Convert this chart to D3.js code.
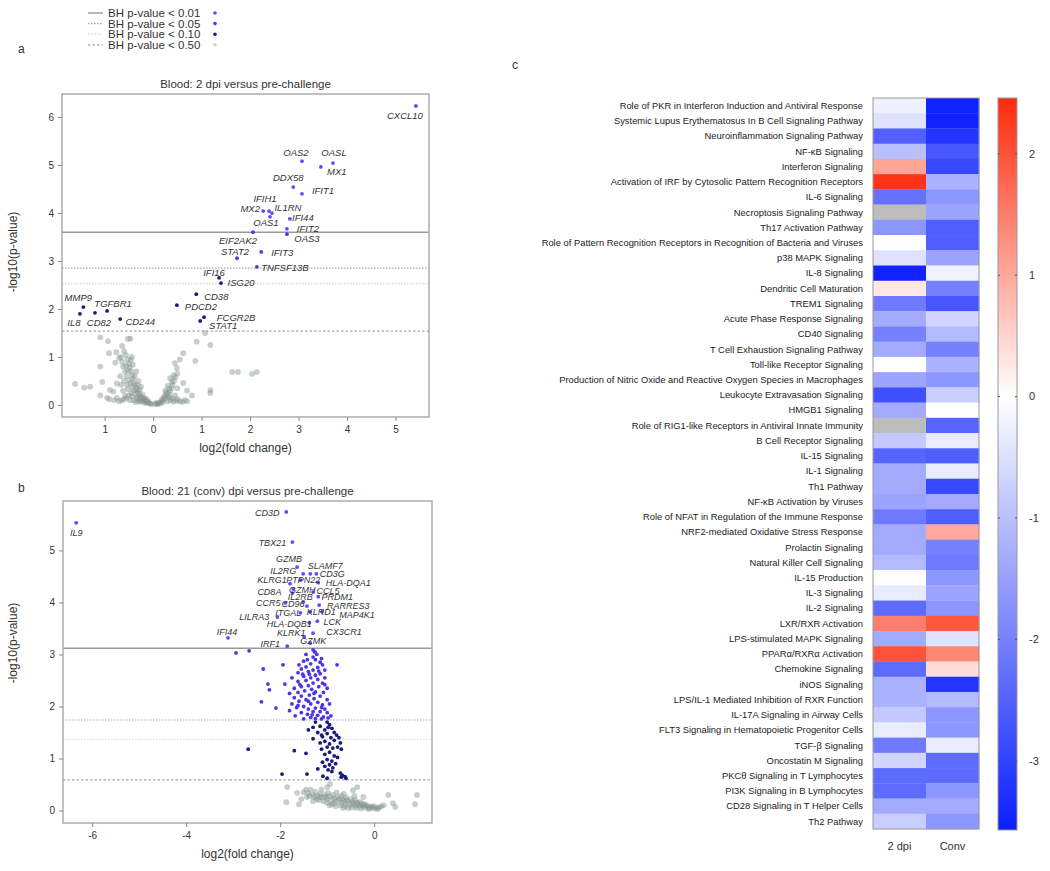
<!DOCTYPE html>
<html><head><meta charset="utf-8">
<script src="https://cdn.jsdelivr.net/npm/d3@7"></script>
<style>body{margin:0;background:#fff} svg text{font-family:"Liberation Sans",Arial,sans-serif}</style>
</head><body><svg id="c" width="1050" height="871"></svg>
<script>
// ---------------- DATA ----------------
const legendLabels = ["BH p-value < 0.01","BH p-value < 0.05","BH p-value < 0.10","BH p-value < 0.50"];

// panel a
const titleA = "Blood: 2 dpi versus pre-challenge";
const thresholdsA = [3.6, 2.85, 2.53, 1.54];
const xTicksA = [-1,0,1,2,3,4,5];
const xTickLabelsA = ["1","0","1","2","3","4","5"];
const yTicksA = [0,1,2,3,4,5,6];
const genesA = [
 ["CXCL10",5.42,6.23],["OAS2",3.07,5.08],["OASL",3.71,5.04],["MX1",3.46,4.96],["DDX58",2.89,4.54],
 ["IFIT1",3.07,4.40],["IFIH1",2.39,4.04],["MX2",2.27,4.04],["IL1RN",2.45,4.00],["OAS1",2.41,3.92],
 ["IFI44",2.82,3.88],["EIF2AK2",2.06,3.60],["IFIT2",2.76,3.67],["OAS3",2.76,3.56],["IFIT3",2.23,3.19],
 ["STAT2",1.73,3.06],["TNFSF13B",2.14,2.88],["IFI16",1.36,2.65],["ISG20",1.40,2.54],["CD38",0.89,2.31],
 ["PDCD2",0.49,2.08],["FCGR2B",1.05,1.83],["STAT1",0.97,1.75],["MMP9",-1.44,2.04],["TGFBR1",-0.95,1.96],
 ["IL8",-1.51,1.90],["CD82",-1.20,1.92],["CD244",-0.68,1.79]
];
const grayA = [
 [-0.04,0.02],[-0.08,0.04],[-0.12,0.06],[-0.16,0.09],[-0.2,0.12],[-0.24,0.16],[-0.27,0.2],[-0.3,0.25],[-0.33,0.3],[-0.35,0.36],
 [-0.38,0.42],[-0.4,0.48],[-0.42,0.55],[-0.44,0.62],[-0.46,0.7],[-0.48,0.78],[-0.5,0.86],[-0.53,0.95],[-0.56,1.04],[-0.6,1.12],
 [-0.1,0.08],[-0.18,0.05],[-0.22,0.09],[-0.28,0.13],[-0.32,0.18],[-0.36,0.24],[-0.4,0.3],[-0.43,0.38],[-0.47,0.45],[-0.5,0.52],
 [-0.55,0.6],[-0.58,0.7],[-0.62,0.8],[-0.38,0.6],[-0.35,0.7],[-0.3,0.5],[-0.25,0.38],[-0.45,0.25],[-0.5,0.2],[-0.55,0.15],
 [-0.6,0.12],[-0.65,0.1],[-0.7,0.08],[-0.4,0.1],[-0.3,0.08],[-0.52,0.33],[-0.34,0.14],[-0.44,0.18],
 [-0.06,0.03],[-0.14,0.04],[-0.26,0.07],[-0.36,0.06],[-0.48,0.1],[-0.58,0.2],[-0.62,0.3],[-0.66,0.42],[-0.6,0.5],[-0.54,0.42],
 [-0.42,0.84],[-0.46,0.94],[-0.52,0.72],[-0.56,0.82],[-0.64,0.9],[-0.66,1.0],[-0.44,1.0],[-0.32,0.42],[-0.28,0.32],[-0.22,0.22],
 [-0.18,0.15],[-0.14,0.12],[-0.8,0.1],[-0.9,0.12],[-0.75,0.15],
 [0.04,0.02],[0.08,0.03],[0.12,0.05],[0.16,0.07],[0.2,0.1],[0.24,0.13],[0.28,0.17],[0.32,0.22],[0.35,0.28],[0.38,0.35],
 [0.4,0.42],[0.43,0.5],[0.46,0.58],[0.5,0.66],[0.3,0.08],[0.36,0.1],[0.42,0.07],[0.48,0.09],[0.55,0.08],[0.6,0.06],
 [0.25,0.3],[0.3,0.4],[0.45,0.2],[0.5,0.35],[0.2,0.05],[0.1,0.02],
 [0.06,0.04],[0.14,0.03],[0.18,0.12],[0.22,0.18],[0.26,0.22],[0.34,0.16],[0.4,0.14],[0.5,0.12],[0.65,0.1],[0.7,0.08],
 [0.38,0.48],[0.42,0.62],[0.33,0.34],[0.28,0.26],
 [-1.61,0.44],[-1.42,0.36],[-1.3,0.38],[-1.09,1.41],[-0.93,1.33],[-0.52,1.38],[-0.47,1.38],[-0.64,1.23],[-0.91,1.08],[-0.76,1.1],
 [-1.09,0.8],[-0.78,0.88],[-0.7,0.98],[-1.05,0.48],[-0.89,0.31],[-0.82,0.28],[-1.09,0.2],[-0.95,0.15],[-0.75,0.45],[-0.68,0.6],
 [1.07,1.5],[0.9,1.32],[1.18,1.25],[0.62,1.08],[0.87,0.92],[0.45,0.87],[0.49,0.77],[1.63,0.69],[1.75,0.69],[2.04,0.65],
 [2.14,0.69],[1.18,0.31],[1.18,0.25],[0.62,0.46],[0.35,0.56],[0.7,0.3],[0.8,0.2],[0.55,0.95]
];

// panel b
const titleB = "Blood: 21 (conv) dpi versus pre-challenge";
const thresholdsB = [3.12, 1.74, 1.37, 0.59];
const xTicksB = [-6,-4,-2,0];
const xTickLabelsB = ["-6","-4","-2","0"];
const yTicksB = [0,1,2,3,4,5];
const genesB = [
 ["IL9",-6.34,5.53],["CD3D",-1.87,5.74],["TBX21",-1.74,5.16],["GZMB",-1.64,4.68],["IL2RG",-1.51,4.55],
 ["SLAMF7",-1.36,4.55],["CD3G",-1.23,4.55],["KLRG1",-1.79,4.36],["PTPN22",-1.57,4.43],["HLA-DQA1",-1.19,4.38],
 ["CD8A",-1.74,4.18],["GZMH",-1.72,4.26],["CCL5",-1.30,4.20],["CCR5",-1.89,3.99],["IL2RB",-1.51,4.01],
 ["PRDM1",-1.19,4.11],["RARRES3",-1.17,3.95],["CD96",-1.43,3.93],["LILRA3",-2.06,3.72],["ITGAL",-1.57,3.80],
 ["KLRD1",-1.36,3.82],["MAP4K1",-1.11,3.82],["HLA-DQB1",-1.38,3.61],["LCK",-1.21,3.64],["IFI44",-3.11,3.32],
 ["KLRK1",-1.49,3.34],["CX3CR1",-1.30,3.41],["GZMK",-1.36,3.22],["IRF1",-1.85,3.16]
];
const sigB = [
 [-1.27,3.05],[-1.22,3.0],[-1.3,2.95],[-1.25,2.9],[-1.5,2.87],[-1.15,2.85],[-1.35,2.82],[-1.6,2.8],[-1.1,2.8],[-0.79,2.8],
 [-1.94,2.8],[-1.45,2.76],[-1.2,2.75],[-1.55,2.72],[-2.36,2.72],[-1.3,2.7],[-1.05,2.7],[-1.4,2.67],[-1.62,2.65],[-1.15,2.63],
 [-1.25,2.6],[-1.5,2.58],[-1.35,2.55],[-1.75,2.55],[-1.05,2.55],[-1.2,2.52],[-1.45,2.5],[-1.62,2.48],[-1.3,2.45],[-1.1,2.45],
 [-2.26,2.43],[-1.9,2.43],[-1.4,2.4],[-1.55,2.38],[-1.18,2.38],[-1.7,2.35],[-1.0,2.35],[-1.33,2.33],[-2.23,2.32],[-1.48,2.3],
 [-1.25,2.28],[-1.62,2.27],[-1.08,2.27],[-1.8,2.25],[-1.38,2.22],[-1.15,2.2],[-1.55,2.2],[-1.7,2.17],[-1.28,2.15],[-1.45,2.13],
 [-1.0,2.13],[-2.4,2.09],[-1.6,2.1],[-1.2,2.08],[-1.35,2.05],[-1.75,2.05],[-1.1,2.03],[-1.5,2.0],[-2.09,1.97],[-1.65,1.98],
 [-1.25,1.97],[-1.4,1.95],[-1.05,1.95],[-1.8,1.92],[-1.3,1.9],[-1.15,1.9],[-1.55,1.88],[-1.0,1.88],[-1.42,1.85],[-1.2,1.83],
 [-1.68,1.82],[-1.08,1.8],[-1.35,1.79],[-1.25,1.77],[-1.5,1.76],[-0.98,1.78],[-1.12,1.76],[-2.94,3.03],[-2.66,3.07],[-1.3,3.09],
 [-1.26,3.05],[-1.42,2.9],[-1.18,2.68],[-1.38,2.62],[-1.58,2.42],[-1.05,2.42],[-1.28,2.25],[-1.4,2.1],[-0.95,2.05],[-1.62,2.02],
 [-1.12,1.98],[-1.32,1.84],[-0.92,1.82],[-1.45,3.0],[-1.12,2.92],[-1.52,2.62]
];
const darkB = [
 [-1.25,1.7],[-1.0,1.7],[-0.95,1.65],[-1.15,1.62],[-1.3,1.6],[-0.9,1.58],[-1.05,1.55],[-1.4,1.55],[-0.85,1.5],[-1.2,1.5],
 [-1.0,1.48],[-0.8,1.45],[-1.1,1.42],[-0.92,1.4],[-0.75,1.4],[-1.3,1.38],[-0.85,1.35],[-1.05,1.33],[-1.15,1.3],[-0.95,1.28],
 [-0.72,1.3],[-1.0,1.22],[-0.88,1.2],[-0.78,1.22],[-1.12,1.18],[-2.68,1.18],[-1.7,1.15],[-1.45,1.1],[-0.95,1.12],[-1.05,1.08],
 [-0.85,1.05],[-0.78,1.02],[-1.0,0.98],[-0.9,0.95],[-1.1,0.93],[-0.82,0.9],[-0.95,0.88],[-1.05,0.85],[-0.88,0.82],[-1.2,0.8],
 [-0.98,0.78],[-0.9,0.75],[-1.96,0.7],[-1.43,0.7],[-1.09,0.66],[-0.72,0.72],[-0.68,0.68],[-0.62,0.65],[-0.6,0.62],[-0.7,0.64],
 [-1.0,0.62],[-1.12,1.45],[-0.98,1.6],[-0.7,1.18]
];
const grayB = [
 [-1.85,0.45],[-1.87,0.16],[-1.64,0.34],[-1.43,0.26],[-1.0,0.45],[-0.94,0.51],[-0.45,0.39],[-0.36,0.45],[-0.23,0.26],[0.3,0.3],
 [0.91,0.3],[0.87,0.12],[0.4,0.14],[0.45,0.07],
 [-1.5,0.35],[-1.4,0.33],[-1.3,0.3],[-1.25,0.36],[-1.2,0.28],[-1.15,0.32],[-1.1,0.25],[-1.05,0.3],[-1.0,0.22],[-0.95,0.27],
 [-0.9,0.2],[-0.85,0.24],[-0.8,0.18],[-0.75,0.22],[-0.7,0.15],[-0.65,0.19],[-0.6,0.13],[-0.55,0.17],[-0.5,0.11],[-0.45,0.14],
 [-0.4,0.09],[-0.35,0.12],[-0.3,0.08],[-0.25,0.1],[-0.2,0.06],[-0.15,0.08],[-0.1,0.05],[-0.05,0.06],[0.0,0.04],[0.05,0.05],
 [0.1,0.06],[-1.35,0.4],[-1.18,0.2],[-1.0,0.15],[-0.9,0.12],[-0.7,0.28],[-0.6,0.25],[-0.5,0.22],[-0.4,0.2],[-1.55,0.22],
 [-1.6,0.12],[-1.3,0.18],[-0.3,0.16],[-0.2,0.12],[0.15,0.08],[0.2,0.1],[-0.8,0.35],[-0.65,0.32],[-1.12,0.4],[-0.55,0.05],
 [-1.22,0.22],[-1.08,0.18],[-0.95,0.1],[-0.85,0.14],[-0.72,0.1],[-0.62,0.08],[-0.48,0.06],[-0.38,0.05],[-0.28,0.04],[-0.12,0.03],
 [-1.28,0.26],[-1.15,0.26],[-1.02,0.26],[-0.88,0.3],[-0.78,0.26],[-0.68,0.22],[-0.58,0.2],[-0.46,0.17],[-0.36,0.15],[-0.26,0.13],
 [-0.16,0.1],[-0.06,0.08],[-1.38,0.28],[-1.45,0.4],[-0.98,0.34],[-0.82,0.08],[-0.66,0.05],[0.0,0.08],[0.08,0.03],[-0.42,0.28]
];

// panel c
const pathways = [
 "Role of PKR in Interferon Induction and Antiviral Response","Systemic Lupus Erythematosus In B Cell Signaling Pathway",
 "Neuroinflammation Signaling Pathway","NF-κB Signaling","Interferon Signaling",
 "Activation of IRF by Cytosolic Pattern Recognition Receptors","IL-6 Signaling","Necroptosis Signaling Pathway",
 "Th17 Activation Pathway","Role of Pattern Recognition Receptors in Recognition of Bacteria and Viruses",
 "p38 MAPK Signaling","IL-8 Signaling","Dendritic Cell Maturation","TREM1 Signaling","Acute Phase Response Signaling",
 "CD40 Signaling","T Cell Exhaustion Signaling Pathway","Toll-like Receptor Signaling",
 "Production of Nitric Oxide and Reactive Oxygen Species in Macrophages","Leukocyte Extravasation Signaling",
 "HMGB1 Signaling","Role of RIG1-like Receptors in Antiviral Innate Immunity","B Cell Receptor Signaling",
 "IL-15 Signaling","IL-1 Signaling","Th1 Pathway","NF-κB Activation by Viruses",
 "Role of NFAT in Regulation of the Immune Response","NRF2-mediated Oxidative Stress Response","Prolactin Signaling",
 "Natural Killer Cell Signaling","IL-15 Production","IL-3 Signaling","IL-2 Signaling","LXR/RXR Activation",
 "LPS-stimulated MAPK Signaling","PPARα/RXRα Activation","Chemokine Signaling","iNOS Signaling",
 "LPS/IL-1 Mediated Inhibition of RXR Function","IL-17A Signaling in Airway Cells",
 "FLT3 Signaling in Hematopoietic Progenitor Cells","TGF-β Signaling","Oncostatin M Signaling",
 "PKCθ Signaling in T Lymphocytes","PI3K Signaling in B Lymphocytes","CD28 Signaling in T Helper Cells","Th2 Pathway"
];
const conditions = ["2 dpi","Conv"];
const zDpi2 = [-0.24,-0.48,-2.53,-1.0,1.04,2.35,-2.23,null,-1.67,-0.02,-0.48,-3.5,0.25,-2.11,-1.33,-2.0,-1.33,0,-1.44,-2.79,
 -1.33,null,-0.88,-2.45,-1.33,-1.33,-1.44,-2.11,-1.33,-1.33,-1.1,-0.03,-0.32,-2.35,1.5,-1.33,2.0,-2.35,-1.22,-1.22,
 -0.88,-0.32,-2.11,-0.66,-2.35,-2.35,-1.33,-0.77];
const zConv = [-3.5,-3.5,-3.2,-2.68,-2.9,-1.22,-1.67,-1.44,-2.56,-2.56,-1.44,-0.21,-2.0,-2.68,-0.66,-1.1,-2.0,-1.22,-1.67,-0.77,
 0,-2.45,-0.32,-2.56,-0.32,-2.9,-1.33,-2.56,1.0,-2.0,-2.11,-1.67,-1.44,-1.67,1.95,-0.45,1.4,0.4,-3.2,-1.1,
 -1.67,-1.67,-0.32,-2.35,-2.35,-1.67,-1.33,-1.67];
const colorbarTicks = [2,1,0,-1,-2,-3];

// ---------------- DRAW ----------------
const svg = d3.select("#c");
const lineStyles = [
 {stroke:"#9a9a9a", w:1.4, dash:null},
 {stroke:"#a8a8a8", w:1.2, dash:"1.5,1.5"},
 {stroke:"#d4d4d4", w:1.2, dash:"1.5,1.5"},
 {stroke:"#a8a8a8", w:1.2, dash:"2.5,2"}
];
const colHi = "#6448ff", colMid = "#4d36e6", colDark = "#1d1a7c", colGray = "#82938d";
const legendPts = [colHi, colMid, colDark, "#cfcfcf"];

// legend
legendLabels.forEach((t,i)=>{
  const yy = 13 + i*10.6;
  const s = lineStyles[i];
  svg.append("line").attr("x1",88).attr("x2",103).attr("y1",yy).attr("y2",yy)
    .attr("stroke",s.stroke).attr("stroke-width",s.w).attr("stroke-dasharray",s.dash);
  svg.append("text").attr("x",108).attr("y",yy).attr("dy","0.35em").attr("font-size",11.5).attr("fill","#333").text(t);
  svg.append("circle").attr("cx",215).attr("cy",yy).attr("r",1.8).attr("fill",legendPts[i]);
});

svg.append("text").attr("x",18).attr("y",49).attr("dy","0.35em").attr("font-size",12).attr("fill","#333").text("a");
svg.append("text").attr("x",18).attr("y",488).attr("dy","0.35em").attr("font-size",12).attr("fill","#333").text("b");
svg.append("text").attr("x",512).attr("y",65).attr("dy","0.35em").attr("font-size",12).attr("fill","#333").text("c");

const labelOffA = [[-11,10],[-6,-9],[1,-10],[16,5],[-5,-9],[21,-3],[-4,-12],[-13,-2],[16,-5],[-4,6],
 [13,-1],[-15,8],[21,0],[20,5],[21,1],[-2,-6],[28,1],[-5,-5],[20,0],[20,3],
 [24,2],[32,1],[23,5],[-5,-9],[6,-7],[-6,9],[4,10],[20,3]];
const labelOffB = [[0,10],[-19,1],[-20,1],[-8,-8],[-20,-3],[15,-8],[16,0],[-18,-4],[3,0],[30,0],
 [-23,-1],[9,1],[15,-1],[-17,0],[-3,-5],[19,0],[29,1],[-14,-2],[-23,0],[-12,0],
 [11,0],[35,3],[-20,1],[15,1],[-1,-6],[-13,-4],[31,-1],[3,-2],[-17,-2]];

function colorFor(p, th){
  if (p > th[0]) return colHi;
  if (p > th[1]) return colMid;
  if (p > th[3]) return colDark;
  return colGray;
}

function volcano(o){
  const x = d3.scaleLinear().domain(o.xDomain).range([o.L,o.R]);
  const y = d3.scaleLinear().domain(o.yDomain).range([o.B,o.T]);
  const g = svg.append("g");
  o.th.forEach((t,i)=>{
    const s = lineStyles[i];
    g.append("line").attr("x1",o.L).attr("x2",o.R).attr("y1",y(t)).attr("y2",y(t))
      .attr("stroke",s.stroke).attr("stroke-width",s.w).attr("stroke-dasharray",s.dash);
  });
  g.selectAll(null).data(o.gray).join("circle")
    .attr("cx",d=>x(d[0])).attr("cy",d=>y(d[1])).attr("r",2.9).attr("fill",colGray).attr("opacity",0.45);
  const sig = (o.sig||[]).concat(o.dark||[]);
  g.selectAll(null).data(sig).join("circle")
    .attr("cx",d=>x(d[0])).attr("cy",d=>y(d[1])).attr("r",1.9).attr("fill",d=>colorFor(d[1],o.th));
  g.selectAll(null).data(o.genes).join("circle")
    .attr("cx",d=>x(d[1])).attr("cy",d=>y(d[2])).attr("r",1.9).attr("fill",d=>colorFor(d[2],o.th));
  g.selectAll(null).data(o.genes).join("text")
    .attr("x",(d,i)=>x(d[1])+o.off[i][0]).attr("y",(d,i)=>y(d[2])+o.off[i][1]).attr("dy","0.35em")
    .attr("text-anchor","middle").attr("font-size",o.labelSize).attr("font-style","italic").attr("fill","#333").text(d=>d[0]);
  g.append("rect").attr("x",o.L).attr("y",o.T).attr("width",o.R-o.L).attr("height",o.B-o.T)
    .attr("fill","none").attr("stroke","#a0a0a0").attr("stroke-width",1.3);
  const ax = g.append("g").attr("transform",`translate(0,${o.B})`)
    .call(d3.axisBottom(x).tickValues(o.xTicks).tickFormat((d,i)=>o.xTickLabels[i]).tickSize(4).tickPadding(5));
  const ay = g.append("g").attr("transform",`translate(${o.L},0)`)
    .call(d3.axisLeft(y).tickValues(o.yTicks).tickFormat(d3.format("d")).tickSize(4).tickPadding(4));
  [ax,ay].forEach(a=>{
    a.select(".domain").remove();
    a.selectAll("line").attr("stroke","#888");
    a.selectAll("text").attr("font-size",10).attr("fill","#333").attr("font-family","Liberation Sans, Arial, sans-serif");
  });
  g.append("text").attr("x",(o.L+o.R)/2).attr("y",o.T-6).attr("text-anchor","middle")
    .attr("font-size",11.5).attr("fill","#333").text(o.title);
  g.append("text").attr("x",(o.L+o.R)/2).attr("y",o.B+31).attr("dy","0.35em").attr("text-anchor","middle")
    .attr("font-size",12).attr("fill","#333").text("log2(fold change)");
  g.append("text").attr("transform",`translate(13,${o.yLabelY}) rotate(-90)`).attr("text-anchor","middle")
    .attr("dy","0.35em").attr("font-size",12).attr("fill","#333").text("-log10(p-value)");
}

volcano({L:62,R:429,T:94,B:417,xDomain:[-1.88,5.69],yDomain:[-0.25,6.48],th:thresholdsA,labelSize:9.5,
  gray:grayA,genes:genesA,off:labelOffA,xTicks:xTicksA,xTickLabels:xTickLabelsA,yTicks:yTicksA,title:titleA,yLabelY:252});
volcano({L:63,R:432,T:501,B:823,xDomain:[-6.62,1.23],yDomain:[-0.24,5.95],th:thresholdsB,labelSize:9,
  gray:grayB,sig:sigB,dark:darkB,genes:genesB,off:labelOffB,xTicks:xTicksB,xTickLabels:xTickLabelsB,yTicks:yTicksB,title:titleB,yLabelY:643});

// heatmap
const hmL=873, hmR=979, hmT=98, hmB=829;
const xs = d3.scaleBand().domain(conditions).range([hmL,hmR]);
const ys = d3.scaleBand().domain(pathways).range([hmT,hmB]);
const zMin=-3.57, zMax=2.46;
const color = d3.scaleLinear().domain([zMin,0,zMax]).range(["#0a1eff","#ffffff","#ff2a0c"]).clamp(true);
const cells = [];
pathways.forEach((p,i)=>{ cells.push({c:conditions[0],p,v:zDpi2[i]}); cells.push({c:conditions[1],p,v:zConv[i]}); });
const hg = svg.append("g");
hg.selectAll(null).data(cells).join("rect")
  .attr("x",d=>xs(d.c)).attr("y",d=>ys(d.p)).attr("width",xs.bandwidth()+0.3).attr("height",ys.bandwidth()+0.3)
  .attr("fill",d=>d.v===null?"#bdbdbd":color(d.v));
hg.append("rect").attr("x",hmL).attr("y",hmT).attr("width",hmR-hmL).attr("height",hmB-hmT)
  .attr("fill","none").attr("stroke","#999").attr("stroke-width",1);
hg.selectAll(null).data(pathways).join("text")
  .attr("x",hmL-10).attr("y",d=>ys(d)+ys.bandwidth()/2).attr("dy","0.35em").attr("text-anchor","end")
  .attr("font-size",9.4).attr("fill","#222").text(d=>d);
hg.selectAll(null).data(conditions).join("text")
  .attr("x",d=>xs(d)+xs.bandwidth()/2).attr("y",846).attr("dy","0.35em").attr("text-anchor","middle")
  .attr("font-size",11).attr("fill","#333").text(d=>d);

// colorbar
const cbL=998, cbR=1017, cbT=98, cbB=830;
const cy = d3.scaleLinear().domain([zMax,zMin]).range([cbT,cbB]);
const defs = svg.append("defs");
const grad = defs.append("linearGradient").attr("id","cbg").attr("x1",0).attr("x2",0).attr("y1",0).attr("y2",1);
[[zMax,0],[0,(0-zMax)/(zMin-zMax)],[zMin,1]].forEach(([v,o])=>grad.append("stop").attr("offset",o).attr("stop-color",color(v)));
svg.append("rect").attr("x",cbL).attr("y",cbT).attr("width",cbR-cbL).attr("height",cbB-cbT)
  .attr("fill","url(#cbg)").attr("stroke","#999").attr("stroke-width",1);
const cg = svg.append("g");
colorbarTicks.forEach(t=>{
  cg.append("line").attr("x1",cbL).attr("x2",cbL+2).attr("y1",cy(t)).attr("y2",cy(t)).attr("stroke","#555");
  cg.append("line").attr("x1",cbR-2).attr("x2",cbR).attr("y1",cy(t)).attr("y2",cy(t)).attr("stroke","#555");
  cg.append("text").attr("x",cbR+12).attr("y",cy(t)).attr("dy","0.35em").attr("font-size",11).attr("fill","#333").text(t);
});
</script></body></html>
